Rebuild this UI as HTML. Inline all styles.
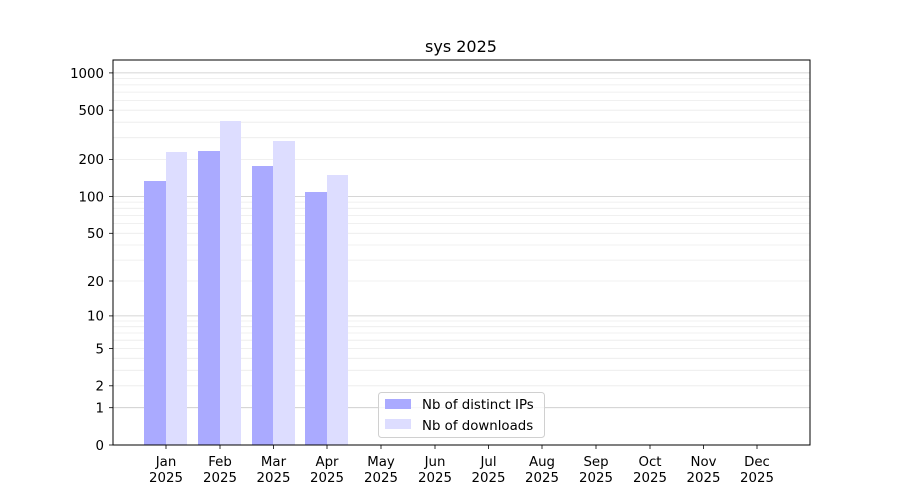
<!DOCTYPE html>
<html><head><meta charset="utf-8"><style>body{margin:0;background:#fff}svg{display:block;font-family:"DejaVu Sans","Liberation Sans",sans-serif}</style></head>
<body>
<svg width="900" height="500" xmlns="http://www.w3.org/2000/svg">
<rect width="900" height="500" fill="#fff"/>
<g stroke="#ebebeb" stroke-width="0.8">
<line x1="113" x2="810" y1="385.8" y2="385.8"/><line x1="113" x2="810" y1="370.3" y2="370.3"/><line x1="113" x2="810" y1="358.3" y2="358.3"/><line x1="113" x2="810" y1="348.5" y2="348.5"/><line x1="113" x2="810" y1="340.2" y2="340.2"/><line x1="113" x2="810" y1="333" y2="333"/><line x1="113" x2="810" y1="326.7" y2="326.7"/><line x1="113" x2="810" y1="321" y2="321"/>
<line x1="113" x2="810" y1="281" y2="281"/><line x1="113" x2="810" y1="260.1" y2="260.1"/><line x1="113" x2="810" y1="245" y2="245"/><line x1="113" x2="810" y1="233.3" y2="233.3"/><line x1="113" x2="810" y1="223.6" y2="223.6"/><line x1="113" x2="810" y1="215.4" y2="215.4"/><line x1="113" x2="810" y1="208.3" y2="208.3"/><line x1="113" x2="810" y1="202.1" y2="202.1"/>
<line x1="113" x2="810" y1="159.4" y2="159.4"/><line x1="113" x2="810" y1="137.7" y2="137.7"/><line x1="113" x2="810" y1="122.2" y2="122.2"/><line x1="113" x2="810" y1="110.2" y2="110.2"/><line x1="113" x2="810" y1="100.4" y2="100.4"/><line x1="113" x2="810" y1="92.1" y2="92.1"/><line x1="113" x2="810" y1="84.9" y2="84.9"/><line x1="113" x2="810" y1="78.6" y2="78.6"/>
</g>
<g stroke="#c8c8c8" stroke-width="0.8">
<line x1="113" x2="810" y1="407.7" y2="407.7"/><line x1="113" x2="810" y1="315.9" y2="315.9"/><line x1="113" x2="810" y1="196.5" y2="196.5"/><line x1="113" x2="810" y1="72.9" y2="72.9"/>
</g>
<g fill="#aaaaff">
<rect x="144" y="181" width="22" height="264"/><rect x="198" y="151" width="22" height="294"/><rect x="252" y="166" width="21" height="279"/><rect x="305" y="192" width="22" height="253"/>
</g>
<g fill="#ddddff">
<rect x="166" y="152" width="21" height="293"/><rect x="220" y="121" width="21" height="324"/><rect x="273" y="141" width="22" height="304"/><rect x="327" y="175" width="21" height="270"/>
</g>
<rect x="113" y="60" width="697" height="385" fill="none" stroke="#000" stroke-width="1"/>
<g stroke="#000" stroke-width="0.8">
<line x1="109" x2="113" y1="445" y2="445"/><line x1="109" x2="113" y1="407.7" y2="407.7"/><line x1="109" x2="113" y1="385.8" y2="385.8"/><line x1="109" x2="113" y1="348.5" y2="348.5"/><line x1="109" x2="113" y1="315.9" y2="315.9"/><line x1="109" x2="113" y1="281" y2="281"/><line x1="109" x2="113" y1="233.3" y2="233.3"/><line x1="109" x2="113" y1="196.5" y2="196.5"/><line x1="109" x2="113" y1="159.4" y2="159.4"/><line x1="109" x2="113" y1="110.2" y2="110.2"/><line x1="109" x2="113" y1="72.9" y2="72.9"/>
<line x1="166" x2="166" y1="445" y2="449"/><line x1="220" x2="220" y1="445" y2="449"/><line x1="273.5" x2="273.5" y1="445" y2="449"/><line x1="327" x2="327" y1="445" y2="449"/><line x1="381" x2="381" y1="445" y2="449"/><line x1="435" x2="435" y1="445" y2="449"/><line x1="488.5" x2="488.5" y1="445" y2="449"/><line x1="542" x2="542" y1="445" y2="449"/><line x1="596" x2="596" y1="445" y2="449"/><line x1="650" x2="650" y1="445" y2="449"/><line x1="703.5" x2="703.5" y1="445" y2="449"/><line x1="757" x2="757" y1="445" y2="449"/>
</g>
<g font-size="13.33" text-anchor="end" fill="#000">
<text x="104" y="450">0</text><text x="104" y="412.5">1</text><text x="104" y="390.5">2</text><text x="104" y="353.5">5</text><text x="104" y="320.5">10</text><text x="104" y="286">20</text><text x="104" y="238">50</text><text x="104" y="201.5">100</text><text x="104" y="164">200</text><text x="104" y="115">500</text><text x="104" y="78">1000</text>
</g>
<g font-size="13.33" text-anchor="middle" fill="#000">
<text x="166" y="466">Jan</text><text x="166" y="482">2025</text>
<text x="220" y="466">Feb</text><text x="220" y="482">2025</text>
<text x="273.5" y="466">Mar</text><text x="273.5" y="482">2025</text>
<text x="327" y="466">Apr</text><text x="327" y="482">2025</text>
<text x="381" y="466">May</text><text x="381" y="482">2025</text>
<text x="435" y="466">Jun</text><text x="435" y="482">2025</text>
<text x="488.5" y="466">Jul</text><text x="488.5" y="482">2025</text>
<text x="542" y="466">Aug</text><text x="542" y="482">2025</text>
<text x="596" y="466">Sep</text><text x="596" y="482">2025</text>
<text x="650" y="466">Oct</text><text x="650" y="482">2025</text>
<text x="703.5" y="466">Nov</text><text x="703.5" y="482">2025</text>
<text x="757" y="466">Dec</text><text x="757" y="482">2025</text>
<text x="461" y="52" font-size="16">sys 2025</text>
</g>
<rect x="378.5" y="392.5" width="166" height="45" rx="3" fill="#fff" fill-opacity="0.8" stroke="#d0d0d0"/>
<rect x="385" y="399" width="26" height="10" fill="#aaaaff"/>
<rect x="385" y="419" width="26" height="10" fill="#ddddff"/>
<g font-size="13.33" fill="#000"><text x="422" y="409">Nb of distinct IPs</text><text x="422" y="430">Nb of downloads</text></g>
</svg>
</body></html>
